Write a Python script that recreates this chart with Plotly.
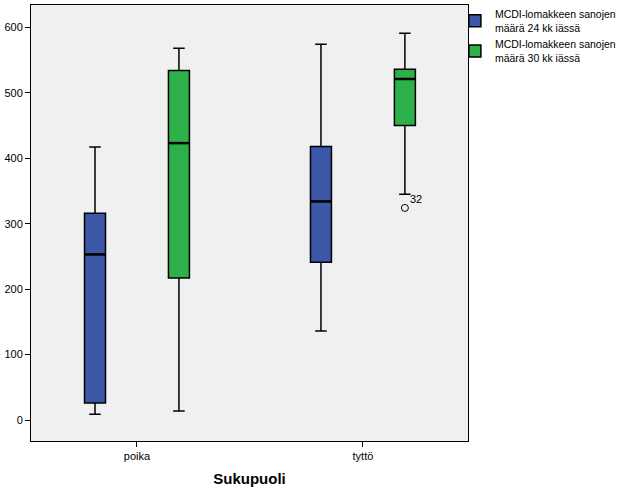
import plotly.graph_objects as go

categories = ["poika", "tyttö"]
series_names = ["MCDI-lomakkeen sanojen<br>määrä 24 kk iässä",
                "MCDI-lomakkeen sanojen<br>määrä 30 kk iässä"]
colors = ["#3C56A8", "#2DB04A"]

# stats per series: [poika, tyttö]
lower = [[9, 136], [14, 345]]
q1 = [[26, 241], [217, 450]]
median = [[253, 334], [423, 521]]
q3 = [[316, 418], [534, 536]]
upper = [[417, 574], [568, 591]]

# outliers: (series index, category index, value, label)
outliers = [(1, 1, 324, "32")]

boxgap = 0.257
boxgroupgap = 0.75
xpos = [0, 1]
nser = 2
slot = (1 - boxgap) / nser
boxw = slot * (1 - boxgroupgap)

def offset(s):
    return -(1 - boxgap) / 2 + slot * (s + 0.5)

fig = go.Figure()
for s in range(nser):
    fig.add_trace(go.Box(
        x=xpos, q1=q1[s], median=median[s], q3=q3[s],
        lowerfence=lower[s], upperfence=upper[s],
        name=series_names[s], fillcolor=colors[s],
        line=dict(color="#000000", width=1.5), whiskerwidth=0.55,
        boxpoints=False, offsetgroup=str(s), hoverinfo="skip"))

# thick median lines
for s in range(nser):
    mx, my = [], []
    for i, c in enumerate(xpos):
        cx = c + offset(s)
        mx += [cx - boxw / 2, cx + boxw / 2, None]
        my += [median[s][i], median[s][i], None]
    fig.add_trace(go.Scatter(x=mx, y=my, mode="lines",
                             line=dict(color="#000000", width=2.5),
                             showlegend=False, hoverinfo="skip"))

for s, ci, v, lab in outliers:
    fig.add_trace(go.Scatter(
        x=[xpos[ci] + offset(s)], y=[v], mode="markers",
        marker=dict(symbol="circle-open", size=7, color="#000000", line=dict(width=1)),
        showlegend=False, hoverinfo="skip"))
    fig.add_annotation(x=xpos[ci] + offset(s), y=v, text=lab, showarrow=False,
                       xanchor="left", yanchor="bottom", xshift=3, yshift=1,
                       font=dict(size=11, color="#000000"))

fig.update_layout(
    width=626, height=501,
    margin=dict(l=31, r=158, t=5, b=60, autoexpand=False),
    paper_bgcolor="white", plot_bgcolor="#F0F0F0",
    boxmode="group", boxgap=boxgap, boxgroupgap=boxgroupgap,
    font=dict(family="Arial, Liberation Sans", size=11, color="#000000"),
    legend=dict(x=0.97, y=1.01, xanchor="left", yanchor="top",
                font=dict(size=10.5), bgcolor="rgba(0,0,0,0)",
                itemwidth=30),
    showlegend=True,
)
fig.update_xaxes(range=[-0.469, 1.465], tickvals=xpos, ticktext=categories,
                 showgrid=False, zeroline=False, ticks="outside", ticklen=5,
                 tickcolor="#000000", showline=True, linecolor="#000000", mirror=True,
                 title=dict(text="<b>Sukupuoli</b>", font=dict(size=15), standoff=12))
fig.update_yaxes(range=[-32, 634], tickvals=[0, 100, 200, 300, 400, 500, 600],
                 showgrid=False, zeroline=False, ticks="outside", ticklen=5,
                 tickcolor="#000000", showline=True, linecolor="#000000", mirror=True)

fig.write_html("out.html")
